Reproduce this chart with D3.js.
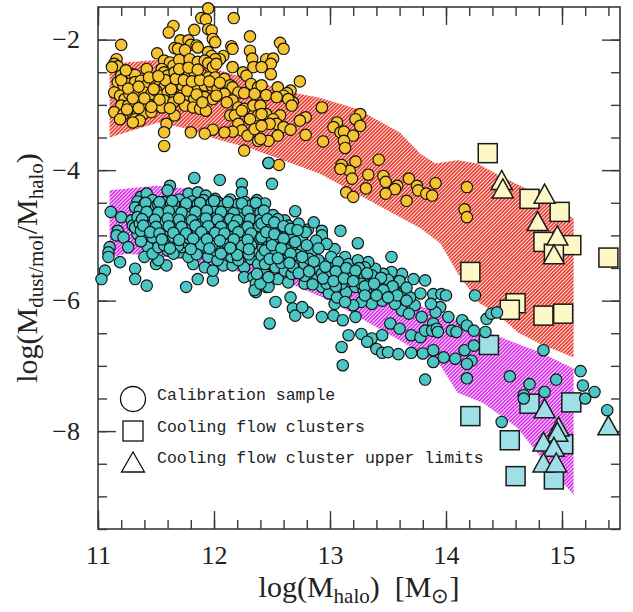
<!DOCTYPE html>
<html>
<head>
<meta charset="utf-8">
<script src="https://cdn.jsdelivr.net/npm/d3@7"></script>
<style>
  html, body { margin: 0; padding: 0; background: #fff; }
  svg { display: block; }
</style>
</head>
<body>
<svg id="chart" width="633" height="612"></svg>
<script>
// Axis ranges and tick values
const xDomain = [11, 15.5];
const yDomain = [-9.5, -1.5];
const xMajorTicks = [11, 12, 13, 14, 15];
const yMajorTicks = [-2, -4, -6, -8];
const xMinorTicks = d3.range(11, 15.5, 0.2).map(v => +v.toFixed(1));
const yMinorTicks = d3.range(-9.5, -1.5, 0.5);

// Model envelopes: molecular gas (upper) and dust (lower), as [logMhalo, logRatio]
const gasBand = [
  [11.10, -2.37], [11.53, -2.31], [11.88, -2.38], [12.40, -2.66], [12.68, -2.81],
  [12.91, -2.89], [13.23, -3.06], [13.60, -3.42], [13.78, -3.75], [13.91, -3.90],
  [14.10, -3.85], [14.27, -3.90], [14.49, -4.11], [14.72, -4.31], [14.96, -4.57],
  [15.10, -4.74], [15.10, -6.87], [14.81, -6.66], [14.62, -6.49], [14.44, -6.20],
  [14.29, -6.04], [14.10, -5.58], [13.95, -5.12], [13.78, -4.89], [12.91, -4.05],
  [12.32, -3.67], [12.01, -3.52], [11.75, -3.36], [11.52, -3.27], [11.10, -3.50]
];
const dustBand = [
  [11.10, -4.31], [11.50, -4.24], [11.75, -4.28], [12.74, -5.16], [13.72, -6.04],
  [14.03, -6.26], [14.47, -6.56], [14.81, -6.79], [15.10, -7.04], [15.10, -8.98],
  [14.84, -8.45], [14.61, -7.94], [14.32, -7.57], [14.10, -7.41], [13.95, -6.99],
  [13.78, -6.79], [13.00, -6.00], [12.66, -5.74], [11.71, -5.35], [11.25, -5.28],
  [11.10, -5.34]
];

// Calibration sample: molecular gas to halo mass
const gasCalibration = [
  [11.95,-1.52],[11.89,-1.67],[11.93,-1.69],[11.65,-1.79],[11.61,-1.89],[11.83,-1.85],[12.17,-1.67],
  [11.95,-1.84],[11.98,-1.86],[11.99,-1.99],[12.01,-2.04],[11.71,-2.01],[11.78,-2.01],[11.80,-2.08],
  [11.85,-2.09],[11.86,-2.12],[11.66,-2.13],[11.69,-2.14],[11.75,-2.16],[11.20,-2.08],[11.51,-2.21],
  [12.31,-1.95],[12.15,-2.10],[12.16,-2.14],[12.31,-2.17],[12.33,-2.29],[12.08,-2.25],[12.05,-2.30],
  [11.95,-2.19],[11.98,-2.25],[12.01,-2.30],[11.16,-2.30],[11.14,-2.37],[11.17,-2.41],[11.12,-2.42],
  [11.57,-2.32],[11.62,-2.35],[11.65,-2.40],[11.70,-2.31],[11.79,-2.30],[11.86,-2.34],[11.92,-2.32],
  [11.95,-2.36],[11.99,-2.42],[12.02,-2.37],[12.16,-2.42],[12.25,-2.50],[12.28,-2.55],[12.34,-2.42],
  [12.32,-2.68],[12.38,-2.73],[11.42,-2.45],[11.20,-2.55],[11.24,-2.56],[11.29,-2.53],[11.32,-2.54],
  [11.55,-2.45],[11.57,-2.50],[11.60,-2.55],[11.66,-2.50],[11.72,-2.53],[11.78,-2.55],[11.83,-2.50],
  [11.89,-2.53],[11.95,-2.58],[12.01,-2.58],[12.09,-2.60],[12.14,-2.70],[12.16,-2.73],[12.21,-2.81],
  [12.26,-2.82],[12.35,-2.83],[11.17,-2.65],[11.22,-2.70],[11.26,-2.68],[11.32,-2.65],[11.37,-2.63],
  [11.43,-2.68],[11.49,-2.65],[11.53,-2.70],[11.57,-2.73],[11.62,-2.68],[11.68,-2.70],[11.73,-2.73],
  [11.80,-2.76],[11.86,-2.73],[11.92,-2.70],[11.98,-2.70],[12.03,-2.76],[12.09,-2.83],[12.16,-2.93],
  [12.21,-3.04],[12.26,-3.06],[12.34,-3.01],[12.38,-3.16],[11.14,-2.81],[11.19,-2.86],[11.23,-2.91],
  [11.27,-2.83],[11.33,-2.82],[11.40,-2.81],[11.46,-2.83],[11.50,-2.78],[11.55,-2.86],[11.60,-2.81],
  [11.66,-2.83],[11.72,-2.86],[11.78,-2.88],[11.83,-2.91],[11.92,-2.88],[11.99,-2.91],[12.11,-2.96],
  [12.14,-3.16],[12.18,-3.16],[12.24,-3.09],[12.31,-3.22],[11.20,-3.01],[11.26,-3.01],[11.32,-2.99],
  [11.37,-2.96],[11.43,-2.99],[11.52,-3.01],[11.57,-2.93],[11.65,-2.96],[11.75,-3.01],[11.82,-3.04],
  [11.88,-3.06],[11.93,-3.09],[11.14,-3.11],[11.22,-3.14],[11.29,-3.11],[11.34,-3.16],[11.39,-3.14],
  [11.55,-3.04],[11.46,-3.11],[11.19,-3.22],[11.32,-3.22],[11.36,-3.24],[11.30,-3.27],[12.21,-3.29],
  [12.24,-3.39],[12.29,-3.47],[12.35,-3.37],[12.38,-3.55],[12.16,-3.41],[12.09,-3.42],[11.99,-3.38],
  [11.92,-3.44],[11.80,-3.42],[11.59,-3.29],[11.57,-3.42],[11.57,-3.63],[12.26,-3.70],[11.66,-3.16],
  [12.57,-2.05],[12.60,-2.14],[12.45,-2.30],[12.51,-2.29],[12.49,-2.37],[12.49,-2.53],[12.41,-2.42],
  [12.74,-2.64],[12.41,-2.70],[12.55,-2.73],[12.66,-2.78],[12.63,-2.82],[12.60,-2.86],[12.45,-2.85],
  [12.54,-2.88],[12.68,-2.96],[12.64,-2.91],[12.67,-3.01],[12.93,-3.04],[12.40,-3.01],[13.26,-3.14],
  [13.22,-3.22],[12.79,-3.19],[12.74,-3.24],[12.45,-3.14],[12.41,-3.14],[12.57,-3.16],[12.51,-3.22],
  [12.54,-3.29],[12.60,-3.34],[12.66,-3.38],[12.48,-3.29],[12.41,-3.32],[13.06,-3.27],[13.03,-3.34],
  [13.09,-3.42],[13.12,-3.41],[13.26,-3.32],[13.20,-3.47],[12.79,-3.46],[12.55,-3.47],[12.47,-3.55],
  [12.40,-3.52],[12.94,-3.56],[13.12,-3.55],[13.13,-3.66],[12.47,-3.89],[12.56,-3.92],[13.10,-3.92],
  [13.22,-3.87],[13.42,-3.84],[13.17,-4.01],[13.09,-3.98],[13.19,-4.13],[13.33,-4.07],[13.46,-4.09],
  [13.48,-4.18],[13.58,-4.24],[13.68,-4.13],[13.56,-4.29],[13.75,-4.24],[13.76,-4.31],[13.31,-4.28],
  [13.14,-4.34],[13.20,-4.41],[13.48,-4.36],[13.66,-4.47],[13.83,-4.36],[13.91,-4.20],[13.88,-4.39],
  [14.18,-4.26],[14.16,-4.60],[14.18,-4.72],
  [11.20,-2.62],[11.26,-2.75],[11.30,-2.90],[11.35,-2.72],[11.40,-2.90],[11.44,-2.58],[11.48,-2.76],
  [11.53,-2.92],[11.58,-2.62],[11.63,-2.76],[11.67,-2.60],[11.70,-2.90],[11.74,-2.62],[11.77,-2.78],
  [11.81,-2.64],[11.85,-2.84],[11.88,-2.62],[11.90,-2.96],[11.96,-2.64],[12.02,-2.86],[12.05,-2.66],
  [11.25,-3.07],[11.35,-3.05],[11.46,-3.03],[11.62,-3.05],[11.70,-2.45],[11.78,-2.43],[11.86,-2.46],
  [11.24,-2.47],[11.52,-2.56]
];

// Calibration sample: dust to halo mass
const dustCalibration = [
  [11.83,-4.12],[12.05,-4.15],[12.24,-4.21],[12.24,-4.34],[11.62,-4.24],[11.60,-4.31],[11.37,-4.41],
  [11.42,-4.36],[11.78,-4.36],[11.86,-4.34],[11.93,-4.39],[12.01,-4.44],[12.06,-4.52],[11.11,-4.64],
  [11.20,-4.72],[11.29,-4.77],[11.30,-4.85],[11.17,-4.93],[11.16,-5.00],[11.22,-5.03],[11.26,-5.18],
  [11.10,-5.18],[11.09,-5.26],[11.09,-5.33],[11.19,-5.41],[11.06,-5.54],[11.03,-5.67],[11.32,-5.51],
  [11.32,-5.67],[11.42,-5.77],[11.50,-5.44],[11.59,-5.46],[11.52,-5.38],[11.70,-5.26],[11.76,-5.79],
  [11.86,-5.67],[11.99,-5.69],[11.82,-5.44],[11.92,-5.49],[11.99,-5.54],[12.08,-5.46],[12.16,-5.46],
  [12.26,-5.49],[12.26,-5.64],[12.34,-5.64],[12.36,-5.74],[12.36,-5.87],[12.45,-5.79],[12.44,-5.59],
  [11.43,-5.18],[11.40,-5.33],[11.47,-5.28],[11.72,-5.18],[11.78,-5.33],[11.95,-5.33],[12.03,-5.38],
  [12.15,-5.33],[12.21,-5.38],[12.32,-5.36],[12.38,-5.44],[12.44,-5.38],[11.34,-4.98],[11.50,-5.05],
  [11.52,-5.18],[11.60,-5.23],[11.66,-5.03],[11.75,-5.08],[11.83,-5.13],[11.92,-5.18],[12.01,-5.23],
  [12.09,-5.23],[12.18,-5.23],[12.26,-5.23],[12.35,-5.23],[12.42,-5.18],
  [11.34,-4.48],[11.47,-4.46],[11.57,-4.49],[11.70,-4.45],[11.81,-4.48],[11.91,-4.46],[12.04,-4.50],
  [12.14,-4.45],[12.27,-4.49],[12.37,-4.46],[11.32,-4.57],[11.40,-4.59],[11.50,-4.55],[11.60,-4.58],
  [11.72,-4.56],[11.83,-4.59],[11.95,-4.55],[12.06,-4.58],[12.18,-4.56],[12.29,-4.60],[12.41,-4.57],
  [11.36,-4.67],[11.46,-4.69],[11.56,-4.65],[11.66,-4.68],[11.78,-4.66],[11.89,-4.70],[11.99,-4.67],
  [12.11,-4.65],[12.22,-4.69],[12.34,-4.66],[12.45,-4.68],[11.40,-4.78],[11.52,-4.76],[11.62,-4.79],
  [11.72,-4.77],[11.83,-4.75],[11.95,-4.79],[12.05,-4.77],[12.15,-4.80],[12.26,-4.76],[12.38,-4.78],
  [11.32,-4.88],[11.43,-4.86],[11.55,-4.89],[11.66,-4.87],[11.78,-4.90],[11.89,-4.86],[12.01,-4.88],
  [12.12,-4.85],[12.24,-4.89],[12.35,-4.87],[12.45,-4.90],[11.42,-4.98],[11.57,-5.00],[11.70,-4.96],
  [11.82,-4.99],[11.95,-4.97],[12.06,-5.00],[12.18,-4.96],[12.29,-4.98],[12.41,-5.00],[11.37,-5.09],
  [11.62,-5.06],[11.75,-5.10],[11.86,-5.07],[11.99,-5.09],[12.11,-5.06],[12.22,-5.08],[12.34,-5.10],
  [12.45,-5.07],[11.40,-4.52],[11.52,-4.53],[11.63,-4.51],[11.75,-4.54],[11.86,-4.52],[11.98,-4.50],
  [12.09,-4.53],[12.21,-4.52],[12.32,-4.54],[12.44,-4.51],[11.36,-4.62],[11.56,-4.61],[11.66,-4.63],
  [11.78,-4.62],[11.89,-4.60],[12.01,-4.63],[12.12,-4.61],[12.24,-4.62],[12.35,-4.64],[11.34,-4.72],
  [11.46,-4.74],[11.57,-4.71],[11.68,-4.73],[11.79,-4.72],[11.90,-4.70],[12.02,-4.73],[12.12,-4.72],
  [12.24,-4.74],[12.35,-4.71],[12.44,-4.73],[11.36,-4.82],[11.47,-4.83],[11.57,-4.81],[11.68,-4.84],
  [11.78,-4.82],[11.89,-4.83],[11.99,-4.81],[12.11,-4.83],[12.21,-4.82],[12.32,-4.84],[12.42,-4.82],
  [11.37,-4.93],[11.49,-4.91],[11.62,-4.94],[11.73,-4.92],[11.86,-4.93],[11.99,-4.91],[12.12,-4.94],
  [12.24,-4.92],[12.35,-4.93],[11.47,-5.03],[11.65,-5.02],[11.78,-5.04],[11.89,-5.01],[12.02,-5.03],
  [12.14,-5.02],[12.26,-5.04],[12.38,-5.02],[11.57,-5.15],[11.69,-5.16],[11.89,-5.15],[11.98,-5.16],
  [12.12,-5.14],[12.24,-5.16],[12.32,-5.15],[11.65,-5.28],[11.85,-5.29],[12.06,-5.28],[12.20,-5.30],
  [12.30,-5.29],[12.41,-5.31],
  [11.41,-4.50],[11.53,-4.49],[11.64,-4.47],[11.76,-4.51],[11.88,-4.50],[12.00,-4.47],[12.12,-4.49],
  [12.24,-4.51],[12.36,-4.50],[11.42,-4.64],[11.52,-4.65],[11.61,-4.63],[11.72,-4.65],[11.84,-4.64],
  [11.94,-4.62],[12.06,-4.64],[12.17,-4.66],[12.29,-4.63],[12.40,-4.65],[11.38,-4.75],[11.49,-4.76],
  [11.60,-4.74],[11.70,-4.76],[11.81,-4.77],[11.93,-4.74],[12.03,-4.76],[12.14,-4.75],[12.20,-4.77],
  [12.31,-4.75],[12.40,-4.76],[11.39,-4.85],[11.50,-4.87],[11.61,-4.86],[11.72,-4.87],[11.84,-4.85],
  [11.95,-4.86],[12.06,-4.87],[12.17,-4.86],[12.29,-4.87],[12.39,-4.86],[11.45,-4.95],[11.53,-4.97],
  [11.65,-4.96],[11.76,-4.97],[11.89,-4.95],[12.01,-4.96],[12.09,-4.97],[12.21,-4.95],[12.32,-4.97],
  [11.55,-5.06],[11.70,-5.07],[11.82,-5.05],[11.94,-5.06],[12.05,-5.08],[12.17,-5.06],[12.29,-5.07],
  [12.40,-5.05],[11.62,-5.20],[11.80,-5.21],[11.96,-5.20],[12.14,-5.19],[12.30,-5.21],[12.47,-5.22],
  [12.70,-4.63],[12.81,-4.91],[12.93,-4.93],[12.93,-5.00],[13.09,-4.93],[13.24,-5.12],[13.53,-5.33],
  [12.43,-4.62],[12.51,-4.69],[12.61,-4.77],[12.73,-4.82],[12.86,-4.80],[12.35,-5.84],[12.47,-5.79],
  [12.40,-5.74],[12.55,-5.67],[12.64,-5.72],[12.53,-6.02],[12.66,-5.95],[12.68,-6.12],[12.70,-6.23],
  [12.81,-6.18],[12.93,-6.25],[13.03,-6.23],[13.11,-6.30],[13.16,-6.53],[13.27,-6.51],[13.36,-6.58],
  [13.45,-6.53],[13.40,-6.74],[13.32,-6.63],[13.10,-6.71],[13.45,-6.80],[13.50,-6.79],[13.59,-6.82],
  [13.70,-6.80],[13.80,-6.81],[12.48,-6.35],[12.76,-6.10],[13.04,-6.05],[13.22,-6.25],[13.52,-6.35],
  [13.60,-6.43],[13.70,-6.53],[13.78,-6.56],[13.82,-6.46],[13.79,-6.25],[13.73,-6.07],[13.78,-5.89],
  [13.82,-5.69],[13.72,-5.67],[13.62,-5.59],[13.53,-5.56],[13.46,-5.59],[13.39,-5.51],[13.33,-5.41],
  [13.22,-5.46],[13.13,-5.33],[13.04,-5.21],[12.97,-5.13],[12.87,-5.23],[12.89,-5.67],[12.78,-5.74],
  [12.74,-5.54],[12.93,-5.79],[12.99,-5.89],[13.06,-5.95],[13.14,-5.87],[13.22,-5.79],[13.29,-5.84],
  [13.34,-5.79],[13.42,-5.72],[13.49,-5.79],[13.56,-5.84],[13.63,-5.89],[13.69,-5.95],[13.62,-6.15],
  [13.68,-6.20],[13.56,-6.05],[13.45,-6.00],[13.36,-6.05],[13.27,-6.02],[13.20,-6.07],[13.13,-6.02],
  [12.41,-4.82],[12.50,-4.87],[12.58,-4.93],[12.67,-4.98],[12.76,-5.03],[12.41,-5.03],[12.50,-5.08],
  [12.58,-5.13],[12.67,-5.18],[12.76,-5.23],[12.84,-5.28],[12.44,-5.23],[12.53,-5.28],[12.61,-5.33],
  [12.70,-5.38],[12.78,-5.44],[12.87,-5.49],[12.96,-5.44],[13.04,-5.49],[13.13,-5.54],[13.22,-5.59],
  [13.30,-5.64],[13.39,-5.69],[13.47,-5.72],[13.56,-5.74],[12.44,-5.44],[12.53,-5.49],[12.61,-5.54],
  [13.01,-5.64],[13.10,-5.74],[13.19,-5.67],[13.27,-5.74],[13.36,-5.61],[13.01,-5.33],[13.07,-5.41],
  [13.16,-5.44],[13.24,-5.38],[13.30,-5.49],[12.93,-5.59],[12.97,-5.74],[12.67,-5.59],[12.37,-5.59],
  [12.47,-5.64],[12.55,-4.75],[12.64,-4.85],[12.79,-4.95],[12.88,-5.08],[12.45,-4.95],[12.55,-5.02],
  [12.62,-5.22],[12.72,-5.30],[12.82,-5.36],[12.48,-5.36],[12.58,-5.42],[12.68,-5.48],[12.90,-5.38],
  [12.99,-5.55],[13.08,-5.62],[13.18,-5.60],[13.25,-5.50],[12.78,-5.62],[12.85,-5.75],[13.05,-5.78],
  [13.40,-5.80],[13.50,-5.68],[13.60,-5.70],[13.66,-5.80],
  [12.46,-4.75],[12.52,-4.80],[12.60,-4.86],[12.66,-4.90],[12.72,-4.92],[12.52,-4.98],[12.60,-5.05],
  [12.70,-5.10],[12.80,-5.15],[12.90,-5.20],[12.50,-5.15],[12.58,-5.20],[12.66,-5.28],[12.76,-5.33],
  [12.86,-5.40],[12.96,-5.48],[13.05,-5.55],[13.14,-5.50],[13.22,-5.54],[13.32,-5.58],[13.44,-5.65],
  [13.54,-5.78],[12.94,-5.66],[13.03,-5.70],[13.12,-5.66],[13.20,-5.70],[13.30,-5.78],[13.38,-5.74],
  [13.46,-5.84],[13.58,-5.92],[13.66,-6.00],[13.50,-5.95],[13.40,-5.92],[13.30,-5.92],[12.55,-5.35],
  [12.65,-5.42],[12.73,-5.58],[12.82,-5.55],
  [13.89,-5.90],[13.96,-5.90],[14.00,-5.92],[13.89,-6.35],[13.88,-6.46],[13.92,-6.43],[13.93,-6.48],
  [13.95,-6.10],[14.02,-6.25],[14.05,-6.46],[14.09,-6.48],[14.14,-6.30],[14.18,-6.38],[14.24,-6.46],
  [14.34,-6.48],[14.35,-6.28],[14.39,-6.20],[14.44,-6.18],[14.25,-5.92],[14.16,-6.76],[14.22,-6.92],
  [14.18,-6.97],[14.08,-6.89],[13.98,-6.87],[13.89,-6.94],[13.89,-6.76],[13.82,-7.21],[14.18,-7.19],
  [14.24,-6.69],[14.55,-7.16],[14.72,-7.28],[14.67,-7.45],[14.67,-7.50],[14.85,-7.40],[14.95,-7.21],
  [15.16,-7.08],[15.18,-7.30],[15.28,-7.40],[15.20,-7.50],[15.39,-7.68],[14.84,-6.76],[14.48,-7.86],
  [13.91,-6.18],[13.87,-6.05],[13.11,-6.99],[12.47,-3.89],[12.50,-4.21]
];

// Cooling flow clusters (detections) and upper limits
const gasClusters = [
  [14.36,-3.74],[14.72,-4.44],[14.98,-4.64],[14.84,-5.10],[15.08,-5.15],[14.93,-5.28],
  [15.40,-5.34],[14.21,-5.56],[14.60,-6.04],[14.55,-6.14],[14.84,-6.23],[15.01,-6.20]
];
const gasLimits = [
  [14.48,-4.18],[14.49,-4.31],[14.85,-4.39],[14.79,-4.81],[14.96,-5.03],[14.93,-5.32]
];
const dustClusters = [
  [14.37,-6.68],[14.21,-7.77],[14.72,-7.58],[15.08,-7.56],[14.55,-8.14],[15.01,-8.20],
  [14.60,-8.69],[14.93,-8.74]
];
const dustLimits = [
  [14.85,-7.68],[14.97,-7.96],[14.96,-8.04],[14.84,-8.19],[14.93,-8.27],[14.84,-8.51],
  [14.95,-8.51],[15.40,-7.94]
];

const legendItems = ["Calibration sample", "Cooling flow clusters", "Cooling flow cluster upper limits"];

const colors = {
  gasPoint: "#f6c430", dustPoint: "#4cc5c5",
  gasCluster: "#fdf8c6", dustCluster: "#9fe0e8",
  gasBand: "#ec4437", dustBand: "#dc34ec",
  frame: "#3a3a3a"
};

const width = 633, height = 612;
const margin = { top: 7, right: 13, bottom: 83, left: 98 };
const svg = d3.select("#chart");

const x = d3.scaleLinear().domain(xDomain).range([margin.left, width - margin.right]);
const y = d3.scaleLinear().domain(yDomain).range([height - margin.bottom, margin.top]);

// Hatch fills for the model envelopes
const defs = svg.append("defs");
function hatch(id, color) {
  const p = defs.append("pattern")
    .attr("id", id).attr("patternUnits", "userSpaceOnUse")
    .attr("width", 2.6).attr("height", 2.6)
    .attr("patternTransform", "rotate(45)");
  p.append("rect").attr("width", 2.6).attr("height", 2.6).attr("fill", "#fff");
  p.append("rect").attr("width", 1.8).attr("height", 2.6).attr("fill", color);
}
hatch("hatch-gas", colors.gasBand);
hatch("hatch-dust", colors.dustBand);

const outline = d3.line().x(d => x(d[0])).y(d => y(d[1]));
svg.append("path").datum(gasBand).attr("d", d => outline(d) + "Z").attr("fill", "url(#hatch-gas)");
svg.append("path").datum(dustBand).attr("d", d => outline(d) + "Z").attr("fill", "url(#hatch-dust)");

// Axes: ticks on all four sides, pointing inwards
const plotW = width - margin.left - margin.right;
const plotH = height - margin.top - margin.bottom;
const fmt = d3.format("d");
const serif = "'Liberation Serif', 'Times New Roman', serif";

function styleAxis(g) {
  g.select(".domain").remove();
  g.selectAll(".tick line").attr("stroke", colors.frame).attr("stroke-width", 1.4);
  g.selectAll("text").attr("font-family", serif).attr("font-size", 26).attr("fill", "#222");
}

svg.append("g").attr("transform", `translate(0,${y.range()[0]})`)
  .call(d3.axisBottom(x).tickValues(xMinorTicks).tickSize(-9).tickFormat("")).call(styleAxis);
svg.append("g").attr("transform", `translate(0,${y.range()[0]})`)
  .call(d3.axisBottom(x).tickValues(xMajorTicks).tickSize(-18).tickPadding(17).tickFormat(fmt)).call(styleAxis);
svg.append("g").attr("transform", `translate(0,${margin.top})`)
  .call(d3.axisTop(x).tickValues(xMinorTicks).tickSize(-9).tickFormat("")).call(styleAxis);
svg.append("g").attr("transform", `translate(0,${margin.top})`)
  .call(d3.axisTop(x).tickValues(xMajorTicks).tickSize(-18).tickFormat("")).call(styleAxis);

svg.append("g").attr("transform", `translate(${margin.left},0)`)
  .call(d3.axisLeft(y).tickValues(yMinorTicks).tickSize(-9).tickFormat("")).call(styleAxis);
svg.append("g").attr("transform", `translate(${margin.left},0)`)
  .call(d3.axisLeft(y).tickValues(yMajorTicks).tickSize(-18).tickPadding(18).tickFormat(fmt)).call(styleAxis);
svg.append("g").attr("transform", `translate(${width - margin.right},0)`)
  .call(d3.axisRight(y).tickValues(yMinorTicks).tickSize(-9).tickFormat("")).call(styleAxis);
svg.append("g").attr("transform", `translate(${width - margin.right},0)`)
  .call(d3.axisRight(y).tickValues(yMajorTicks).tickSize(-18).tickFormat("")).call(styleAxis);

svg.append("rect")
  .attr("x", margin.left).attr("y", margin.top)
  .attr("width", plotW).attr("height", plotH)
  .attr("fill", "none").attr("stroke", colors.frame).attr("stroke-width", 1.6);

// Markers
const sq = 19, triW = 21, triH = 19;
function squares(data, fill) {
  svg.append("g").selectAll("rect").data(data).join("rect")
    .attr("x", d => x(d[0]) - sq / 2).attr("y", d => y(d[1]) - sq / 2)
    .attr("width", sq).attr("height", sq)
    .attr("fill", fill).attr("stroke", "#1a1a1a").attr("stroke-width", 1.5);
}
function triangles(data, fill) {
  svg.append("g").selectAll("path").data(data).join("path")
    .attr("d", d => {
      const cx = x(d[0]), cy = y(d[1]);
      return `M${cx},${cy - triH * 0.6}L${cx + triW / 2},${cy + triH * 0.4}L${cx - triW / 2},${cy + triH * 0.4}Z`;
    })
    .attr("fill", fill).attr("stroke", "#1a1a1a").attr("stroke-width", 1.5)
    .attr("stroke-linejoin", "miter");
}
function circles(data, fill) {
  svg.append("g").selectAll("circle").data(data).join("circle")
    .attr("cx", d => x(d[0])).attr("cy", d => y(d[1])).attr("r", 5.7)
    .attr("fill", fill).attr("stroke", "#111").attr("stroke-width", 1.15);
}

squares(gasClusters, colors.gasCluster);
squares(dustClusters, colors.dustCluster);
circles(gasCalibration, colors.gasPoint);
circles(dustCalibration, colors.dustPoint);
triangles(gasLimits, colors.gasCluster);
triangles(dustLimits, colors.dustCluster);

// Legend
const legend = svg.append("g");
const lx = 133, ly = [399, 431, 462];
legend.append("circle").attr("cx", lx).attr("cy", ly[0]).attr("r", 12.5)
  .attr("fill", "none").attr("stroke", "#111").attr("stroke-width", 1.3);
legend.append("rect").attr("x", lx - 10).attr("y", ly[1] - 10).attr("width", 20).attr("height", 20)
  .attr("fill", "none").attr("stroke", "#111").attr("stroke-width", 1.3);
legend.append("path")
  .attr("d", `M${lx},${ly[2] - 10}L${lx + 11.5},${ly[2] + 10}L${lx - 11.5},${ly[2] + 10}Z`)
  .attr("fill", "none").attr("stroke", "#111").attr("stroke-width", 1.3);
legend.selectAll("text").data(legendItems).join("text")
  .attr("x", 157).attr("y", (d, i) => ly[i] + 1)
  .attr("font-family", "'Liberation Mono', 'DejaVu Sans Mono', monospace")
  .attr("font-size", 16.5).attr("fill", "#222")
  .text(d => d);

// Axis titles
const xt = svg.append("text")
  .attr("x", margin.left + plotW / 2).attr("y", 597)
  .attr("text-anchor", "middle").attr("font-family", serif).attr("font-size", 30).attr("fill", "#222");
xt.append("tspan").text("log(M");
xt.append("tspan").attr("font-size", 21).attr("dy", "0.3em").text("halo");
xt.append("tspan").attr("dy", "-0.21em").text(")\u00a0\u00a0[M");
xt.append("tspan").attr("font-size", 21).attr("dy", "0.3em").text("\u2299");
xt.append("tspan").attr("dy", "-0.21em").text("]");

const yt = svg.append("text")
  .attr("transform", `translate(37,${margin.top + plotH / 2}) rotate(-90)`)
  .attr("text-anchor", "middle").attr("font-family", serif).attr("font-size", 30).attr("fill", "#222");
yt.append("tspan").text("log(M");
yt.append("tspan").attr("font-size", 21).attr("dy", "0.3em").text("dust/mol");
yt.append("tspan").attr("dy", "-0.21em").text("/M");
yt.append("tspan").attr("font-size", 21).attr("dy", "0.3em").text("halo");
yt.append("tspan").attr("dy", "-0.21em").text(")");
</script>
</body>
</html>
